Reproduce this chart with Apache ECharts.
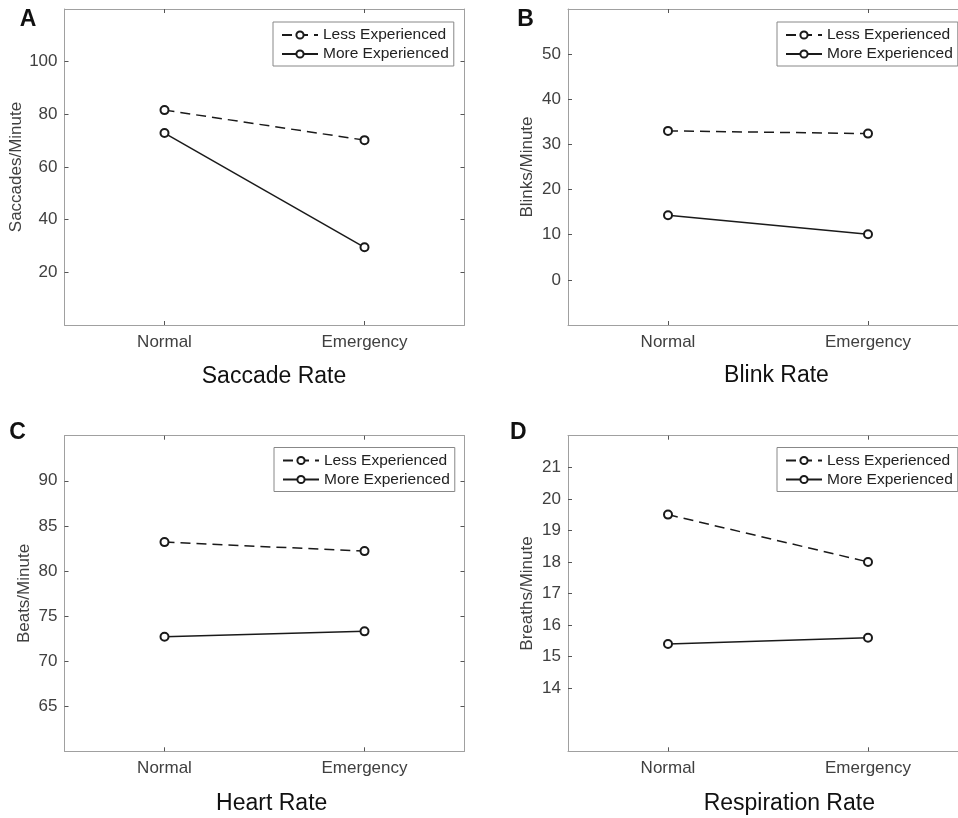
<!DOCTYPE html>
<html>
<head>
<meta charset="utf-8">
<script src="https://cdn.jsdelivr.net/npm/echarts@6/dist/echarts.min.js"></script>
<style>
  html, body { margin: 0; padding: 0; background: #fff; }
  #main { width: 958px; height: 818px; }
</style>
</head>
<body>
<div id="main"></div>
<script>
// conditions on the x axis
var conditions = ['Normal', 'Emergency'];
var groupNames = ['Less Experienced', 'More Experienced'];

// A - saccade rate
var saccadeLess = [81.6, 70.2];
var saccadeMore = [72.9, 29.5];
var saccadeTicks = [20, 40, 60, 80, 100];

// B - blink rate
var blinkLess = [33.0, 32.4];
var blinkMore = [14.3, 10.1];
var blinkTicks = [0, 10, 20, 30, 40, 50];

// C - heart rate
var heartLess = [83.2, 82.2];
var heartMore = [72.7, 73.3];
var heartTicks = [65, 70, 75, 80, 85, 90];

// D - respiration rate
var respLess = [19.5, 18.0];
var respMore = [15.4, 15.6];
var respTicks = [14, 15, 16, 17, 18, 19, 20, 21];

var FONT = '"Liberation Sans", Arial, Helvetica, sans-serif';

var panels = [
  { letter: 'A', title: 'Saccade Rate', yName: 'Saccades/Minute', less: saccadeLess, more: saccadeMore, ticks: saccadeTicks,
    min: 0, max: 120, grid: { left: 64.5, top: 9, width: 400, height: 316 }, nameGap: 40,
    legendPos: [273, 22], titlePos: [274, 377], letterPos: [28, 20] },
  { letter: 'B', title: 'Blink Rate', yName: 'Blinks/Minute', less: blinkLess, more: blinkMore, ticks: blinkTicks,
    min: -10, max: 60, grid: { left: 568, top: 9, width: 400, height: 316 }, nameGap: 32,
    legendPos: [777, 22], titlePos: [776.5, 376], letterPos: [525.5, 20] },
  { letter: 'C', title: 'Heart Rate', yName: 'Beats/Minute', less: heartLess, more: heartMore, ticks: heartTicks,
    min: 60, max: 95, grid: { left: 64.5, top: 435.7, width: 400, height: 315.6 }, nameGap: 32,
    legendPos: [274, 447.5], titlePos: [271.7, 804], letterPos: [17.5, 432.4] },
  { letter: 'D', title: 'Respiration Rate', yName: 'Breaths/Minute', less: respLess, more: respMore, ticks: respTicks,
    min: 12, max: 22, grid: { left: 568, top: 435.7, width: 400, height: 315.6 }, nameGap: 32,
    legendPos: [777, 447.5], titlePos: [789.3, 804], letterPos: [518.2, 432.4] }
];

var grids = [], xAxes = [], yAxes = [], series = [], legends = [], graphics = [];

var axisLineStyle = { color: '#a0a0a0', width: 1 };
var tickStyle = { color: '#555', width: 1 };

panels.forEach(function (p, i) {
  grids.push(Object.assign({ outerBoundsMode: 'none', containLabel: false }, p.grid));

  // bottom + top category axes (MATLAB box with inward ticks)
  xAxes.push({
    type: 'category', gridIndex: i, position: 'bottom', data: conditions, boundaryGap: true,
    axisLine: { show: true, onZero: false, lineStyle: axisLineStyle },
    axisTick: { show: true, inside: true, alignWithLabel: true, length: 4, lineStyle: tickStyle },
    axisLabel: { show: true, color: '#404040', fontSize: 17, fontFamily: FONT, margin: 9 },
    splitLine: { show: false }
  });
  xAxes.push({
    type: 'category', gridIndex: i, position: 'top', data: conditions, boundaryGap: true,
    axisLine: { show: true, onZero: false, lineStyle: axisLineStyle },
    axisTick: { show: true, inside: true, alignWithLabel: true, length: 4, lineStyle: tickStyle },
    axisLabel: { show: false },
    splitLine: { show: false }
  });

  yAxes.push({
    type: 'value', gridIndex: i, position: 'left', min: p.min, max: p.max,
    name: p.yName, nameLocation: 'middle', nameRotate: 90, nameGap: p.nameGap,
    nameTextStyle: { color: '#404040', fontSize: 17, fontFamily: FONT },
    axisLine: { show: true, onZero: false, lineStyle: axisLineStyle },
    axisTick: { show: true, inside: true, length: 4, lineStyle: tickStyle, customValues: p.ticks },
    axisLabel: { show: true, color: '#404040', fontSize: 17, fontFamily: FONT, margin: 7, customValues: p.ticks },
    splitLine: { show: false }
  });
  yAxes.push({
    type: 'value', gridIndex: i, position: 'right', min: p.min, max: p.max,
    axisLine: { show: true, onZero: false, lineStyle: axisLineStyle },
    axisTick: { show: true, inside: true, length: 4, lineStyle: tickStyle, customValues: p.ticks },
    axisLabel: { show: false },
    splitLine: { show: false }
  });

  var common = {
    type: 'line', xAxisIndex: i * 2, yAxisIndex: i * 2,
    symbol: 'emptyCircle', symbolSize: 8, showAllSymbol: true,
    itemStyle: { color: '#1a1a1a', borderWidth: 1.5 },
    emphasis: { disabled: true }
  };
  series.push(Object.assign({}, common, {
    name: groupNames[0], data: p.less,
    lineStyle: { color: '#1a1a1a', width: 1.5, type: [10, 6] }
  }));
  series.push(Object.assign({}, common, {
    name: groupNames[1], data: p.more,
    lineStyle: { color: '#1a1a1a', width: 1.5, type: 'solid' }
  }));

  legends.push({
    data: groupNames, orient: 'vertical', left: p.legendPos[0], top: p.legendPos[1],
    backgroundColor: '#fff', borderColor: '#888', borderWidth: 1,
    padding: [5, 5, 4, 8], itemWidth: 36, itemHeight: 9, itemGap: 3,
    textStyle: { color: '#222', fontSize: 15.5, fontFamily: FONT },
    selectedMode: false
  });

  graphics.push({
    type: 'text', style: { text: p.title, x: p.titlePos[0], y: p.titlePos[1], align: 'center', verticalAlign: 'middle',
      fontSize: 23, fontFamily: FONT, fill: '#111' }
  });
  graphics.push({
    type: 'text', style: { text: p.letter, x: p.letterPos[0], y: p.letterPos[1], align: 'center', verticalAlign: 'middle',
      fontSize: 23, fontWeight: 'bold', fontFamily: FONT, fill: '#111' }
  });
});

var myChart = echarts.init(document.getElementById('main'));
myChart.setOption({
  animation: false,
  backgroundColor: '#fff',
  grid: grids,
  xAxis: xAxes,
  yAxis: yAxes,
  legend: legends,
  series: series,
  graphic: graphics
});
</script>
</body>
</html>
